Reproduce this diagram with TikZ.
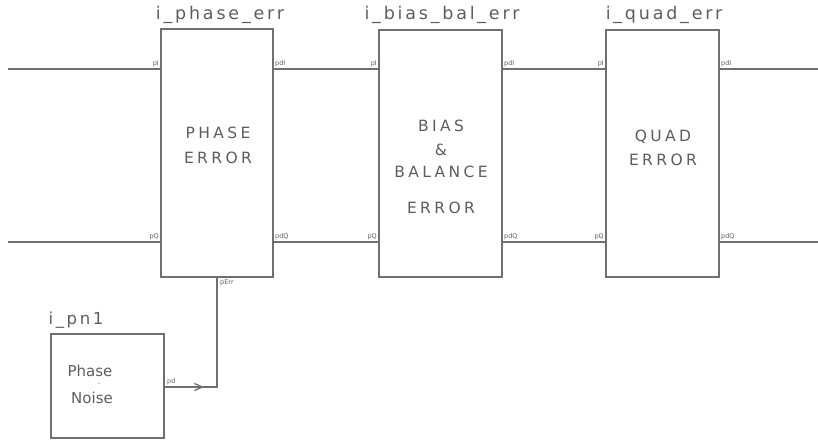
\documentclass[tikz,border=0pt]{standalone}
\usepackage{fontspec}
\setmainfont{DejaVu Sans}
\newfontfamily\blockfont[LetterSpace=22]{DejaVu Sans}
\newfontfamily\titlefont[LetterSpace=16]{DejaVu Sans}
\usetikzlibrary{arrows.meta}
\definecolor{wire}{HTML}{707070}
\definecolor{ink}{HTML}{5E5E5E}
\begin{document}
\begin{tikzpicture}[x=1pt,y=-1pt,
  wireline/.style={draw=wire,line width=1.3pt},
  blockbox/.style={draw=wire,line width=1.3pt,fill=white},
  blocktext/.style={text=ink,font=\blockfont\fontsize{15.5}{17}\selectfont,inner sep=0pt},
  titletext/.style={text=ink,font=\titlefont\fontsize{17.5}{19}\selectfont,inner sep=0pt},
  porttext/.style={text=ink,font=\fontsize{6.5}{7}\selectfont,inner sep=0pt},
  smalltext/.style={text=ink,font=\fontsize{15}{17}\selectfont,inner sep=0pt}]
\useasboundingbox (0,0) rectangle (818,440);

% blocks
\draw[blockbox] (161,29) rectangle (273,277);
\draw[blockbox] (379,30) rectangle (502,277);
\draw[blockbox] (606,30) rectangle (719,277);
\draw[blockbox] (51,334) rectangle (164,438);

% ports on block edges
\coordinate (aInL) at (161,69);  \coordinate (aQL) at (161,242);
\coordinate (aInR) at (273,69);  \coordinate (aQR) at (273,242);
\coordinate (aErr) at (217,277);
\coordinate (bInL) at (379,69);  \coordinate (bQL) at (379,242);
\coordinate (bInR) at (502,69);  \coordinate (bQR) at (502,242);
\coordinate (cInL) at (606,69);  \coordinate (cQL) at (606,242);
\coordinate (cInR) at (719,69);  \coordinate (cQR) at (719,242);
\coordinate (nOut) at (164,387);
\coordinate (nBend) at (217,387);
\coordinate (nTip) at (204,387);
\coordinate (leftI) at (8,69);   \coordinate (leftQ) at (8,242);
\coordinate (rightI) at (818,69); \coordinate (rightQ) at (818,242);

% signal wires
\draw[wireline] (leftI) -- (aInL);
\draw[wireline] (leftQ) -- (aQL);
\draw[wireline] (aInR) -- (bInL);
\draw[wireline] (aQR) -- (bQL);
\draw[wireline] (bInR) -- (cInL);
\draw[wireline] (bQR) -- (cQL);
\draw[wireline] (cInR) -- (rightI);
\draw[wireline] (cQR) -- (rightQ);
\draw[wireline] (nOut) -- (nBend) -- (aErr);
\draw[wireline,-{Straight Barb[length=8pt,width=7pt]}] (nOut) -- (nTip);

% instance names
\node[titletext] (t1) at (220,15) {i\_phase\_err};
\node[titletext] (t2) at (442,15) {i\_bias\_bal\_err};
\node[titletext] (t3) at (664,15) {i\_quad\_err};
\node[titletext,font=\titlefont\fontsize{16.5}{18}\selectfont] (t4) at (76,320) {i\_pn1};

% block captions
\node[blocktext] (p1) at (218,133) {PHASE};
\node[blocktext] (p2) at (218,158) {ERROR};
\node[blocktext] (b1) at (441,126) {BIAS};
\node[blocktext] (b2) at (441,150) {\&};
\node[blocktext] (b3) at (441,172) {BALANCE};
\node[blocktext] (b4) at (441,208) {ERROR};
\node[blocktext] (q1) at (663,137) {QUAD};
\node[blocktext] (q2) at (663,160) {ERROR};
\node[smalltext] (n1) at (90,371) {Phase};
\node[porttext] (n2) at (99,384) {-};
\node[smalltext] (n3) at (92,398) {Noise};

% port names
\node[porttext,anchor=south east] (l1) at (159,67) {pI};
\node[porttext,anchor=south east] (l2) at (159,240) {pQ};
\node[porttext,anchor=south west] (l3) at (275,67) {pdI};
\node[porttext,anchor=south west] (l4) at (275,240) {pdQ};
\node[porttext,anchor=south east] (l5) at (377,67) {pI};
\node[porttext,anchor=south east] (l6) at (377,240) {pQ};
\node[porttext,anchor=south west] (l7) at (504,67) {pdI};
\node[porttext,anchor=south west] (l8) at (504,240) {pdQ};
\node[porttext,anchor=south east] (l9) at (604,67) {pI};
\node[porttext,anchor=south east] (l10) at (604,240) {pQ};
\node[porttext,anchor=south west] (l11) at (721,67) {pdI};
\node[porttext,anchor=south west] (l12) at (721,240) {pdQ};
\node[porttext,anchor=north west] (l13) at (220,280) {pErr};
\node[porttext,anchor=south west] (l14) at (167,385) {pd};
\end{tikzpicture}
\end{document}
